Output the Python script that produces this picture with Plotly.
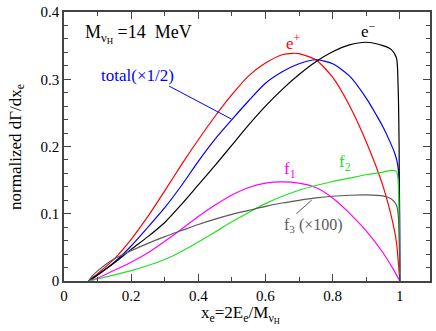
import plotly.graph_objects as go

# ---- data ----
x_eplus = [0.073, 0.1, 0.15, 0.2, 0.25, 0.3, 0.35, 0.4, 0.45, 0.5, 0.55, 0.6, 0.65, 0.68, 0.7, 0.75, 0.8, 0.85, 0.9, 0.95, 0.98, 0.99, 1.0]
y_eplus = [0.0, 0.011, 0.033, 0.062, 0.096, 0.134, 0.173, 0.210, 0.245, 0.277, 0.305, 0.324, 0.3365, 0.3386, 0.338, 0.329, 0.303, 0.261, 0.207, 0.141, 0.085, 0.058, 0.0]

x_total = [0.073, 0.1, 0.15, 0.2, 0.25, 0.3, 0.35, 0.4, 0.45, 0.5, 0.55, 0.6, 0.65, 0.7, 0.75, 0.8, 0.85, 0.9, 0.93, 0.95, 0.97, 0.985, 0.993, 0.998, 1.0]
y_total = [0.0, 0.009, 0.028, 0.052, 0.080, 0.109, 0.142, 0.178, 0.211, 0.240, 0.268, 0.294, 0.311, 0.323, 0.329, 0.323, 0.305, 0.272, 0.247, 0.229, 0.208, 0.190, 0.175, 0.150, 0.0]

x_eminus = [0.073, 0.1, 0.15, 0.2, 0.25, 0.3, 0.35, 0.4, 0.45, 0.5, 0.55, 0.6, 0.65, 0.7, 0.75, 0.8, 0.85, 0.9, 0.95, 0.975, 0.99, 0.995, 0.998, 1.0]
y_eminus = [0.0, 0.009, 0.027, 0.047, 0.066, 0.087, 0.114, 0.143, 0.172, 0.202, 0.232, 0.260, 0.285, 0.307, 0.326, 0.341, 0.351, 0.355, 0.350, 0.344, 0.332, 0.29, 0.2, 0.0]

x_f1 = [0.073, 0.1, 0.15, 0.2, 0.25, 0.3, 0.35, 0.4, 0.45, 0.5, 0.55, 0.6, 0.65, 0.7, 0.75, 0.8, 0.85, 0.9, 0.95, 0.98, 1.0]
y_f1 = [0.0, 0.004, 0.016, 0.028, 0.042, 0.059, 0.077, 0.096, 0.113, 0.128, 0.139, 0.1455, 0.1475, 0.1455, 0.139, 0.1235, 0.101, 0.0745, 0.042, 0.018, 0.0]

x_f2 = [0.073, 0.1, 0.15, 0.2, 0.25, 0.3, 0.35, 0.4, 0.45, 0.5, 0.55, 0.6, 0.65, 0.7, 0.75, 0.8, 0.85, 0.9, 0.95, 0.975, 0.99, 0.995, 0.998, 1.0]
y_f2 = [0.0, 0.003, 0.009, 0.0155, 0.023, 0.032, 0.044, 0.058, 0.073, 0.088, 0.102, 0.115, 0.126, 0.135, 0.142, 0.148, 0.153, 0.158, 0.162, 0.1645, 0.163, 0.15, 0.1, 0.0]

x_f3 = [0.073, 0.085, 0.1, 0.125, 0.15, 0.2, 0.25, 0.3, 0.35, 0.4, 0.45, 0.5, 0.55, 0.6, 0.65, 0.7, 0.75, 0.8, 0.85, 0.9, 0.95, 0.975, 0.99, 0.995, 0.998, 1.0]
y_f3 = [0.0, 0.008, 0.015, 0.025, 0.033, 0.045, 0.056, 0.066, 0.075, 0.084, 0.092, 0.099, 0.105, 0.111, 0.116, 0.120, 0.1235, 0.126, 0.1275, 0.128, 0.1265, 0.122, 0.113, 0.1, 0.07, 0.0]

# leader lines for labels (data coords)
total_leader_x = [0.3124, 0.499]
total_leader_y = [0.290, 0.2407]
f3_leader_x = [0.692, 0.738]
f3_leader_y = [0.100, 0.1204]

x_ticks = [0, 0.2, 0.4, 0.6, 0.8, 1.0]
x_ticklabels = ["0", "0.2", "0.4", "0.6", "0.8", "1"]
y_ticks = [0, 0.1, 0.2, 0.3, 0.4]
y_ticklabels = ["0", "0.1", "0.2", "0.3", "0.4"]

FONT = "Liberation Serif"
GREEN = "#22e022"
GRAY = "#5a5a5a"

fig = go.Figure()

series = [
    (x_eplus, y_eplus, "red"),
    (x_total, y_total, "blue"),
    (x_eminus, y_eminus, "black"),
    (x_f1, y_f1, "#ff00ff"),
    (x_f2, y_f2, GREEN),
    (x_f3, y_f3, GRAY),
]
for xs, ys, c in series:
    fig.add_trace(go.Scatter(x=xs, y=ys, mode="lines",
                             line=dict(color=c, width=1.2, shape="spline", smoothing=0.7),
                             showlegend=False, hoverinfo="skip"))

fig.add_shape(type="line", xref="x", yref="y",
              x0=total_leader_x[0], y0=total_leader_y[0], x1=total_leader_x[1], y1=total_leader_y[1],
              line=dict(color="blue", width=1))
fig.add_shape(type="line", xref="x", yref="y",
              x0=f3_leader_x[0], y0=f3_leader_y[0], x1=f3_leader_x[1], y1=f3_leader_y[1],
              line=dict(color=GRAY, width=1))

def ann(text, x, y, color, size=17, xanchor="center", yanchor="middle", xref="x", yref="y", angle=0):
    fig.add_annotation(text=text, x=x, y=y, xref=xref, yref=yref, showarrow=False,
                       xanchor=xanchor, yanchor=yanchor, textangle=angle,
                       font=dict(family=FONT, size=size, color=color))

ann("M<sub>ν<sub>H</sub></sub>\u00a0=14\u00a0\u00a0MeV", 0.056, 0.367, "black", size=18, xanchor="left")
ann("total(×1/2)", 0.219, 0.306, "blue", size=17)
ann("e<sup>+</sup>", 0.684, 0.356, "red", size=17)
ann("e<sup>−</sup>", 0.906, 0.373, "black", size=17)
ann("f<sub>1</sub>", 0.672, 0.165, "#ff00ff", size=17)
ann("f<sub>2</sub>", 0.838, 0.175, GREEN, size=17)
ann("f<sub>3</sub> (×100)", 0.6485, 0.082, GRAY, size=16, xanchor="left")

ann("normalized dΓ/dx<sub>e</sub>", -0.13, 0.5, "black", size=17, xref="paper", yref="paper", angle=-90)
ann("x<sub>e</sub>=2E<sub>e</sub>/M<sub>ν<sub>H</sub></sub>", 0.481, -0.123, "black", size=17,
    xref="paper", yref="paper")

axis_common = dict(showgrid=False, zeroline=False, showline=True, linecolor="#444", linewidth=1.5,
                   mirror="ticks", ticks="inside", ticklen=7, tickwidth=1, tickcolor="#444",
                   ticklabeloverflow="allow",
                   tickfont=dict(family=FONT, size=15, color="black"))

fig.update_xaxes(range=[0, 1.09], tickvals=x_ticks, ticktext=x_ticklabels,
                 minor=dict(dtick=0.1, tick0=0, ticks="inside", ticklen=4, tickcolor="#444"),
                 **axis_common)
fig.update_yaxes(range=[0, 0.4], tickvals=y_ticks, ticktext=y_ticklabels,
                 minor=dict(dtick=0.02, tick0=0, ticks="inside", ticklen=4, tickcolor="#444"),
                 **axis_common)

fig.update_layout(width=436, height=331, margin=dict(l=64, r=4, t=5, b=50),
                  plot_bgcolor="white", paper_bgcolor="white")

fig.write_html("out.html", config={"displayModeBar": False},
               post_script="document.body.style.margin='0';document.body.style.overflow='hidden';")
